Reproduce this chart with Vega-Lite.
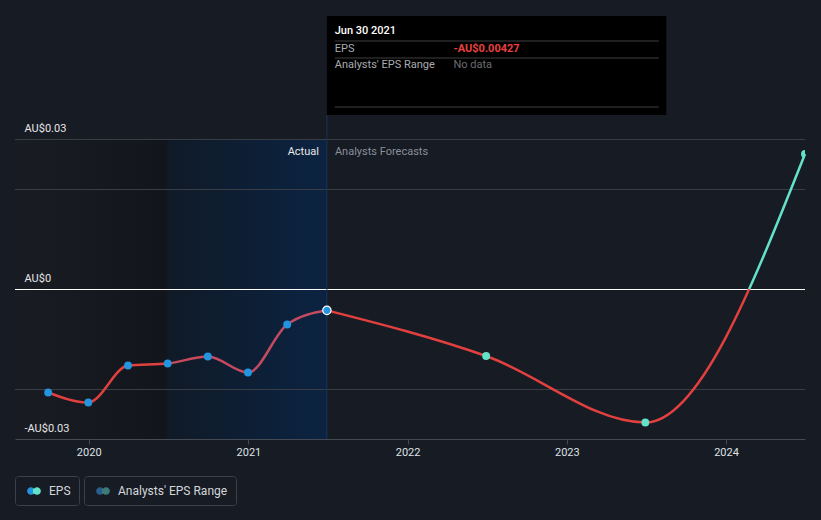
{
  "$schema": "https://vega.github.io/schema/vega-lite/v6.json",
  "width": 790,
  "height": 300,
  "autosize": {"type": "none"},
  "padding": {"left": 15, "top": 139, "right": 16, "bottom": 81},
  "background": "#161b24",
  "config": {
    "view": {"stroke": null},
    "font": "Roboto",
    "legend": {
      "layout": {"bottom": {"anchor": "start", "direction": "horizontal", "margin": 5}}
    }
  },
  "datasets": {
    "hist": [
      {"date": "2019-09-30", "eps": -0.0207},
      {"date": "2019-12-31", "eps": -0.0227},
      {"date": "2020-03-31", "eps": -0.0153},
      {"date": "2020-06-30", "eps": -0.0149},
      {"date": "2020-09-30", "eps": -0.0135},
      {"date": "2020-12-31", "eps": -0.0167},
      {"date": "2021-03-31", "eps": -0.0071},
      {"date": "2021-06-30", "eps": -0.00427}
    ],
    "fcst": [
      {"date": "2021-06-30", "eps": -0.00427},
      {"date": "2022-06-30", "eps": -0.0134},
      {"date": "2023-06-30", "eps": -0.0267},
      {"date": "2024-06-30", "eps": 0.027}
    ],
    "fcstpts": [
      {"date": "2022-06-30", "eps": -0.0134},
      {"date": "2023-06-30", "eps": -0.0267},
      {"date": "2024-06-30", "eps": 0.027}
    ],
    "sel": [{"date": "2021-06-30", "eps": -0.00427}],
    "grid": [{"v": 0.03}, {"v": 0.02}, {"v": -0.02}]
  },
  "resolve": {"scale": {"shape": "independent"}, "legend": {"shape": "independent"}},
  "layer": [
    {
      "data": {"values": [{"start": "2019-07-16", "end": "2020-06-30"}]},
      "mark": {"type": "rect", "color": {"gradient": "linear", "x1": 0, "y1": 0, "x2": 1, "y2": 0, "stops": [{"offset": 0, "color": "#191c23"}, {"offset": 1, "color": "#12151b"}]}},
      "encoding": {
        "x": {"field": "start", "type": "temporal",
          "scale": {"type": "utc", "domain": [{"year": 2019, "month": 7, "date": 16, "utc": true}, {"year": 2024, "month": 6, "date": 30, "utc": true}]},
          "axis": {"format": "%Y", "tickCount": {"interval": "year", "step": 1}, "labelColor": "#dfe1e4", "labelFontSize": 11, "labelFont": "Roboto", "tickColor": "#454a54", "domainColor": "#454a54", "tickSize": 5, "labelPadding": 2, "grid": false, "title": null, "labelFlush": false}},
        "x2": {"field": "end"},
        "y": {"datum": -0.03, "type": "quantitative",
          "scale": {"domain": [-0.03, 0.03], "nice": false, "zero": false},
          "axis": {"values": [-0.03, 0, 0.03], "labelExpr": "datum.value == 0 ? 'AU$0' : (datum.value < 0 ? '-AU$' : 'AU$') + format(abs(datum.value), '.2f')", "labelAlign": "left", "labelBaseline": "alphabetic", "labelOffset": -8, "labelPadding": -9, "ticks": false, "tickSize": 0, "domain": false, "grid": false, "title": null, "labelColor": "#e6e6e6", "labelFontSize": 11, "labelFont": "Roboto", "zindex": 1}},
        "y2": {"datum": 0.03}
      }
    },
    {
      "data": {"values": [{"start": "2020-06-30", "end": "2021-06-30"}]},
      "mark": {"type": "rect", "color": {"gradient": "linear", "x1": 0, "y1": 0, "x2": 1, "y2": 0, "stops": [{"offset": 0, "color": "#101a27"}, {"offset": 1, "color": "#0b2342"}]}},
      "encoding": {
        "x": {"field": "start", "type": "temporal"},
        "x2": {"field": "end"},
        "y": {"datum": -0.03, "type": "quantitative"},
        "y2": {"datum": 0.03}
      }
    },
    {
      "data": {"name": "grid"},
      "mark": {"type": "rule", "color": "#383d46", "strokeWidth": 1, "yOffset": 0.5},
      "encoding": {"y": {"field": "v", "type": "quantitative"}}
    },
    {
      "data": {"values": [{"v": 0}]},
      "mark": {"type": "rule", "color": "#ffffff", "strokeWidth": 1, "yOffset": 0.5},
      "encoding": {"y": {"field": "v", "type": "quantitative"}}
    },
    {
      "data": {"values": [{"date": "2021-06-30"}]},
      "mark": {"type": "rule", "color": "#1c3453", "strokeWidth": 1},
      "encoding": {
        "x": {"field": "date", "type": "temporal"},
        "y": {"datum": -0.03, "type": "quantitative"},
        "y2": {"datum": 0.0348}
      }
    },
    {
      "data": {"name": "hist"},
      "mark": {"type": "line", "interpolate": "monotone", "strokeWidth": 2.5,
        "stroke": {"gradient": "linear", "x1": 0, "y1": 0, "x2": 1, "y2": 0, "stops": [{"offset": 0, "color": "#e2403f"}, {"offset": 0.428, "color": "#e2403f"}, {"offset": 0.429, "color": "#c8495c"}, {"offset": 1, "color": "#c24a60"}]}},
      "encoding": {
        "x": {"field": "date", "type": "temporal"},
        "y": {"field": "eps", "type": "quantitative"}
      }
    },
    {
      "data": {"name": "fcst"},
      "mark": {"type": "line", "interpolate": "monotone", "strokeWidth": 2.5,
        "stroke": {"gradient": "linear", "x1": 0, "y1": 0, "x2": 0, "y2": 1, "stops": [{"offset": 0, "color": "#63e2ca"}, {"offset": 0.5028, "color": "#63e2ca"}, {"offset": 0.5028, "color": "#e2403f"}, {"offset": 1, "color": "#e2403f"}]}},
      "encoding": {
        "x": {"field": "date", "type": "temporal"},
        "y": {"field": "eps", "type": "quantitative"}
      }
    },
    {
      "data": {"name": "hist"},
      "mark": {"type": "point", "filled": true, "size": 62, "color": "#2394df", "opacity": 1},
      "encoding": {
        "x": {"field": "date", "type": "temporal"},
        "y": {"field": "eps", "type": "quantitative"}
      }
    },
    {
      "data": {"name": "sel"},
      "mark": {"type": "point", "filled": true, "size": 70, "fill": "#2394df", "stroke": "#ffffff", "strokeWidth": 1.2, "opacity": 1},
      "encoding": {
        "x": {"field": "date", "type": "temporal"},
        "y": {"field": "eps", "type": "quantitative"}
      }
    },
    {
      "data": {"name": "fcstpts"},
      "mark": {"type": "point", "filled": true, "size": 62, "color": "#63e2ca", "opacity": 1, "clip": true},
      "encoding": {
        "x": {"field": "date", "type": "temporal"},
        "y": {"field": "eps", "type": "quantitative"}
      }
    },
    {
      "data": {"values": [{"date": "2021-06-30", "t": "Actual"}]},
      "mark": {"type": "text", "align": "right", "baseline": "middle", "dx": -8, "fontSize": 11, "color": "#e8e8e8"},
      "encoding": {
        "x": {"field": "date", "type": "temporal"},
        "y": {"datum": 0.0275, "type": "quantitative"},
        "text": {"field": "t"}
      }
    },
    {
      "data": {"values": [{"date": "2021-06-30", "t": "Analysts Forecasts"}]},
      "mark": {"type": "text", "align": "left", "baseline": "middle", "dx": 8, "fontSize": 11, "color": "#8a8f98"},
      "encoding": {
        "x": {"field": "date", "type": "temporal"},
        "y": {"datum": 0.0275, "type": "quantitative"},
        "text": {"field": "t"}
      }
    },
    {
      "data": {"values": [{"a": "2021-06-30", "b": "2023-08-17", "lo": 0.0348, "hi": 0.0546}]},
      "mark": {"type": "rect", "color": "#000000"},
      "encoding": {
        "x": {"field": "a", "type": "temporal"},
        "x2": {"field": "b"},
        "y": {"field": "lo", "type": "quantitative"},
        "y2": {"field": "hi"}
      }
    },
    {
      "data": {"values": [{"a": "2021-07-18", "b": "2023-07-31", "v": 0.0497}, {"a": "2021-07-18", "b": "2023-07-31", "v": 0.0463}, {"a": "2021-07-18", "b": "2023-07-31", "v": 0.0365}]},
      "mark": {"type": "rule", "color": "#3f3f3f", "strokeWidth": 1, "yOffset": 0.5},
      "encoding": {
        "x": {"field": "a", "type": "temporal"},
        "x2": {"field": "b"},
        "y": {"field": "v", "type": "quantitative"}
      }
    },
    {
      "data": {"values": [{"d": "2021-07-18", "v": 0.0516, "t": "Jun 30 2021"}]},
      "mark": {"type": "text", "align": "left", "baseline": "middle", "fontSize": 11, "fontWeight": 500, "color": "#ffffff"},
      "encoding": {"x": {"field": "d", "type": "temporal"}, "y": {"field": "v", "type": "quantitative"}, "text": {"field": "t"}}
    },
    {
      "data": {"values": [{"d": "2021-07-18", "v": 0.0481, "t": "EPS"}, {"d": "2021-07-18", "v": 0.0448, "t": "Analysts' EPS Range"}]},
      "mark": {"type": "text", "align": "left", "baseline": "middle", "fontSize": 11, "color": "#a9abaf"},
      "encoding": {"x": {"field": "d", "type": "temporal"}, "y": {"field": "v", "type": "quantitative"}, "text": {"field": "t"}}
    },
    {
      "data": {"values": [{"d": "2022-04-16", "v": 0.0481, "t": "-AU$0.00427"}]},
      "mark": {"type": "text", "align": "left", "baseline": "middle", "fontSize": 11, "fontWeight": "bold", "color": "#e8403f"},
      "encoding": {"x": {"field": "d", "type": "temporal"}, "y": {"field": "v", "type": "quantitative"}, "text": {"field": "t"}}
    },
    {
      "data": {"values": [{"d": "2022-04-16", "v": 0.0448, "t": "No data"}]},
      "mark": {"type": "text", "align": "left", "baseline": "middle", "fontSize": 11, "color": "#6b6d70"},
      "encoding": {"x": {"field": "d", "type": "temporal"}, "y": {"field": "v", "type": "quantitative"}, "text": {"field": "t"}}
    },
    {
      "data": {"values": [{"s": "EPS"}]},
      "transform": [{"filter": "false"}],
      "mark": {"type": "point", "filled": true, "fill": {"gradient": "linear", "x1": 0, "y1": 0, "x2": 1, "y2": 0, "stops": [{"offset": 0, "color": "#2394df"}, {"offset": 0.44, "color": "#2394df"}, {"offset": 0.44, "color": "#63e2ca"}, {"offset": 1, "color": "#63e2ca"}]}},
      "encoding": {
        "shape": {"field": "s", "type": "nominal",
          "scale": {"domain": ["EPS"], "range": ["M-0.98,0A0.55,0.55,0,1,0,0.12,0A0.55,0.55,0,1,0,-0.98,0ZM-0.12,0A0.55,0.55,0,1,0,0.98,0A0.55,0.55,0,1,0,-0.12,0Z"]},
          "legend": {"orient": "bottom", "direction": "horizontal", "title": null, "symbolSize": 196, "symbolOpacity": 1, "symbolStrokeWidth": 0, "symbolOffset": 4, "labelColor": "#d5d7da", "labelFontSize": 12, "labelFont": "Roboto", "fillColor": "#161b24", "strokeColor": "#3b404a", "cornerRadius": 3, "padding": 8, "labelOffset": 8, "offset": 19}}
      }
    },
    {
      "data": {"values": [{"s": "Analysts' EPS Range"}]},
      "transform": [{"filter": "false"}],
      "mark": {"type": "point", "filled": true, "fill": {"gradient": "linear", "x1": 0, "y1": 0, "x2": 1, "y2": 0, "stops": [{"offset": 0, "color": "#2a5d8a"}, {"offset": 0.44, "color": "#2a5d8a"}, {"offset": 0.44, "color": "#3d7b7b"}, {"offset": 1, "color": "#3d7b7b"}]}},
      "encoding": {
        "shape": {"field": "s", "type": "nominal",
          "scale": {"domain": ["Analysts' EPS Range"], "range": ["M-0.98,0A0.55,0.55,0,1,0,0.12,0A0.55,0.55,0,1,0,-0.98,0ZM-0.12,0A0.55,0.55,0,1,0,0.98,0A0.55,0.55,0,1,0,-0.12,0Z"]},
          "legend": {"orient": "bottom", "direction": "horizontal", "title": null, "symbolSize": 196, "symbolOpacity": 1, "symbolStrokeWidth": 0, "symbolOffset": 4, "labelColor": "#d5d7da", "labelFontSize": 12, "labelFont": "Roboto", "fillColor": "#161b24", "strokeColor": "#3b404a", "cornerRadius": 3, "padding": 8, "labelOffset": 8, "offset": 19}}
      }
    }
  ]
}
